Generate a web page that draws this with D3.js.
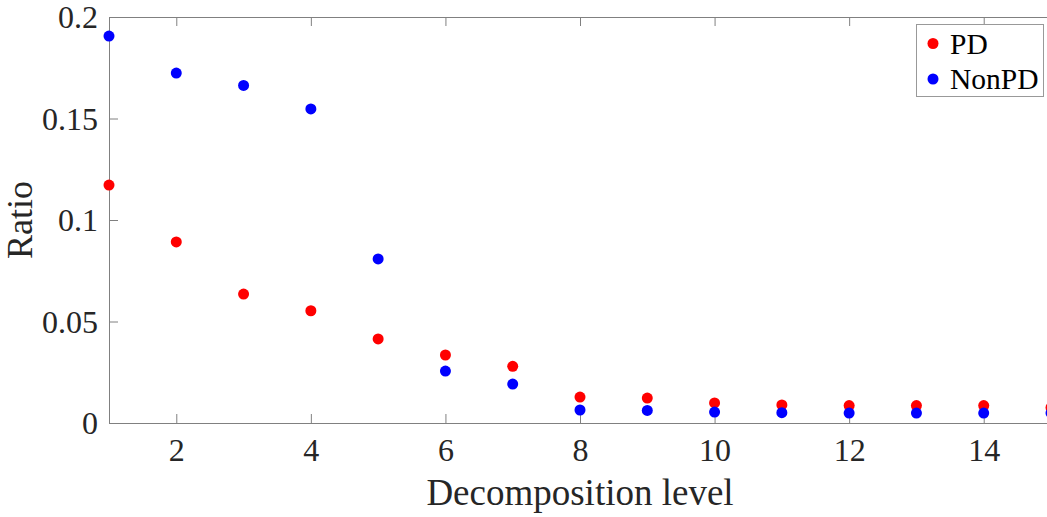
<!DOCTYPE html>
<html>
<head>
<meta charset="utf-8">
<script src="https://cdn.jsdelivr.net/npm/d3@7"></script>
<style>
  body { margin: 0; background: #fff; }
  svg { display: block; font-family: "Liberation Serif", "Times New Roman", serif; }
</style>
</head>
<body>
<script>
const WIDTH = 1047;
const HEIGHT = 517;

// decomposition levels
var levels = [1,2,3,4,5,6,7,8,9,10,11,12,13,14,15];
var pdValues = [0.1172, 0.0892, 0.0635, 0.0553, 0.0414, 0.0335, 0.0279, 0.0128, 0.0123, 0.0099, 0.0089, 0.0086, 0.0086, 0.0086, 0.0076];
var nonPdValues = [0.1906, 0.1724, 0.1663, 0.1547, 0.0808, 0.0256, 0.0192, 0.0064, 0.0062, 0.0054, 0.0051, 0.0049, 0.0049, 0.0049, 0.0049];
var xTicks = [2,4,6,8,10,12,14];
var yTicks = [0, 0.05, 0.1, 0.15, 0.2];
var yTickLabels = ['0', '0.05', '0.1', '0.15', '0.2'];
var seriesNames = ['PD', 'NonPD'];
var seriesColors = ['#ff0000', '#0000ff'];

var plotLeft = 109, plotRight = 1051, plotTop = 17, plotBottom = 423;

var svg = d3.select('body').append('svg')
    .attr('width', WIDTH)
    .attr('height', HEIGHT);

var xScale = d3.scaleLinear().domain([1, 15]).range([plotLeft, plotRight]);
var yScale = d3.scaleLinear().domain([0, 0.2]).range([plotBottom, plotTop]);

var axisColor = '#808080';
var textColor = '#262626';

// bottom axis, ticks pointing inward
var xAxis = svg.append('g')
    .attr('transform', 'translate(0,' + plotBottom + ')')
    .call(d3.axisBottom(xScale).tickValues(xTicks).tickSize(-9).tickSizeOuter(0).tickPadding(16).tickFormat(d3.format('d')));
// top axis with mirrored ticks
var xAxisTop = svg.append('g')
    .attr('transform', 'translate(0,' + plotTop + ')')
    .call(d3.axisTop(xScale).tickValues(xTicks).tickSize(-9).tickSizeOuter(0).tickFormat(''));
var yAxis = svg.append('g')
    .attr('transform', 'translate(' + plotLeft + ',0)')
    .call(d3.axisLeft(yScale).tickValues(yTicks).tickSize(-9).tickSizeOuter(0).tickPadding(11)
        .tickFormat(function (d, i) { return yTickLabels[i]; }));

[xAxis, xAxisTop, yAxis].forEach(function (g) {
    g.select('.domain').attr('stroke', axisColor).attr('stroke-width', 1);
    g.selectAll('.tick line').attr('stroke', axisColor);
    g.selectAll('.tick text')
        .attr('fill', textColor)
        .style('font-size', '32px')
        .style('font-family', '"Liberation Serif", "Times New Roman", serif');
});
xAxis.selectAll('.tick text').attr('dy', '0.68em');
yAxis.selectAll('.tick text').attr('dy', '0.34em');

// axis labels
svg.append('text')
    .attr('x', 580)
    .attr('y', 505)
    .attr('text-anchor', 'middle')
    .attr('fill', textColor)
    .style('font-size', '37px')
    .text('Decomposition level');

svg.append('text')
    .attr('transform', 'translate(32,' + (plotTop + plotBottom) / 2 + ') rotate(-90)')
    .attr('text-anchor', 'middle')
    .attr('fill', textColor)
    .style('font-size', '36px')
    .text('Ratio');

// points
var plot = svg.append('g');
[pdValues, nonPdValues].forEach(function (vals, s) {
    plot.selectAll('circle.s' + s)
        .data(levels)
        .enter()
        .append('circle')
        .attr('class', 's' + s)
        .attr('cx', function (d) { return xScale(d); })
        .attr('cy', function (d, i) { return yScale(vals[i]); })
        .attr('r', 5.5)
        .attr('fill', seriesColors[s]);
});

// legend
var legend = svg.append('g').attr('transform', 'translate(916,24)');
legend.append('rect')
    .attr('x', 0.5).attr('y', 0.5)
    .attr('width', 127).attr('height', 72)
    .attr('fill', '#fff')
    .attr('stroke', '#999');
seriesNames.forEach(function (name, i) {
    var row = legend.append('g').attr('transform', 'translate(0,' + (19.5 + i * 35.5) + ')');
    row.append('circle')
        .attr('cx', 17).attr('cy', 0).attr('r', 5.5)
        .attr('fill', seriesColors[i]);
    row.append('text')
        .attr('x', 34).attr('y', 0).attr('dy', '0.35em')
        .attr('fill', '#000')
        .style('font-size', '29.5px')
        .text(name);
});
</script>
</body>
</html>
